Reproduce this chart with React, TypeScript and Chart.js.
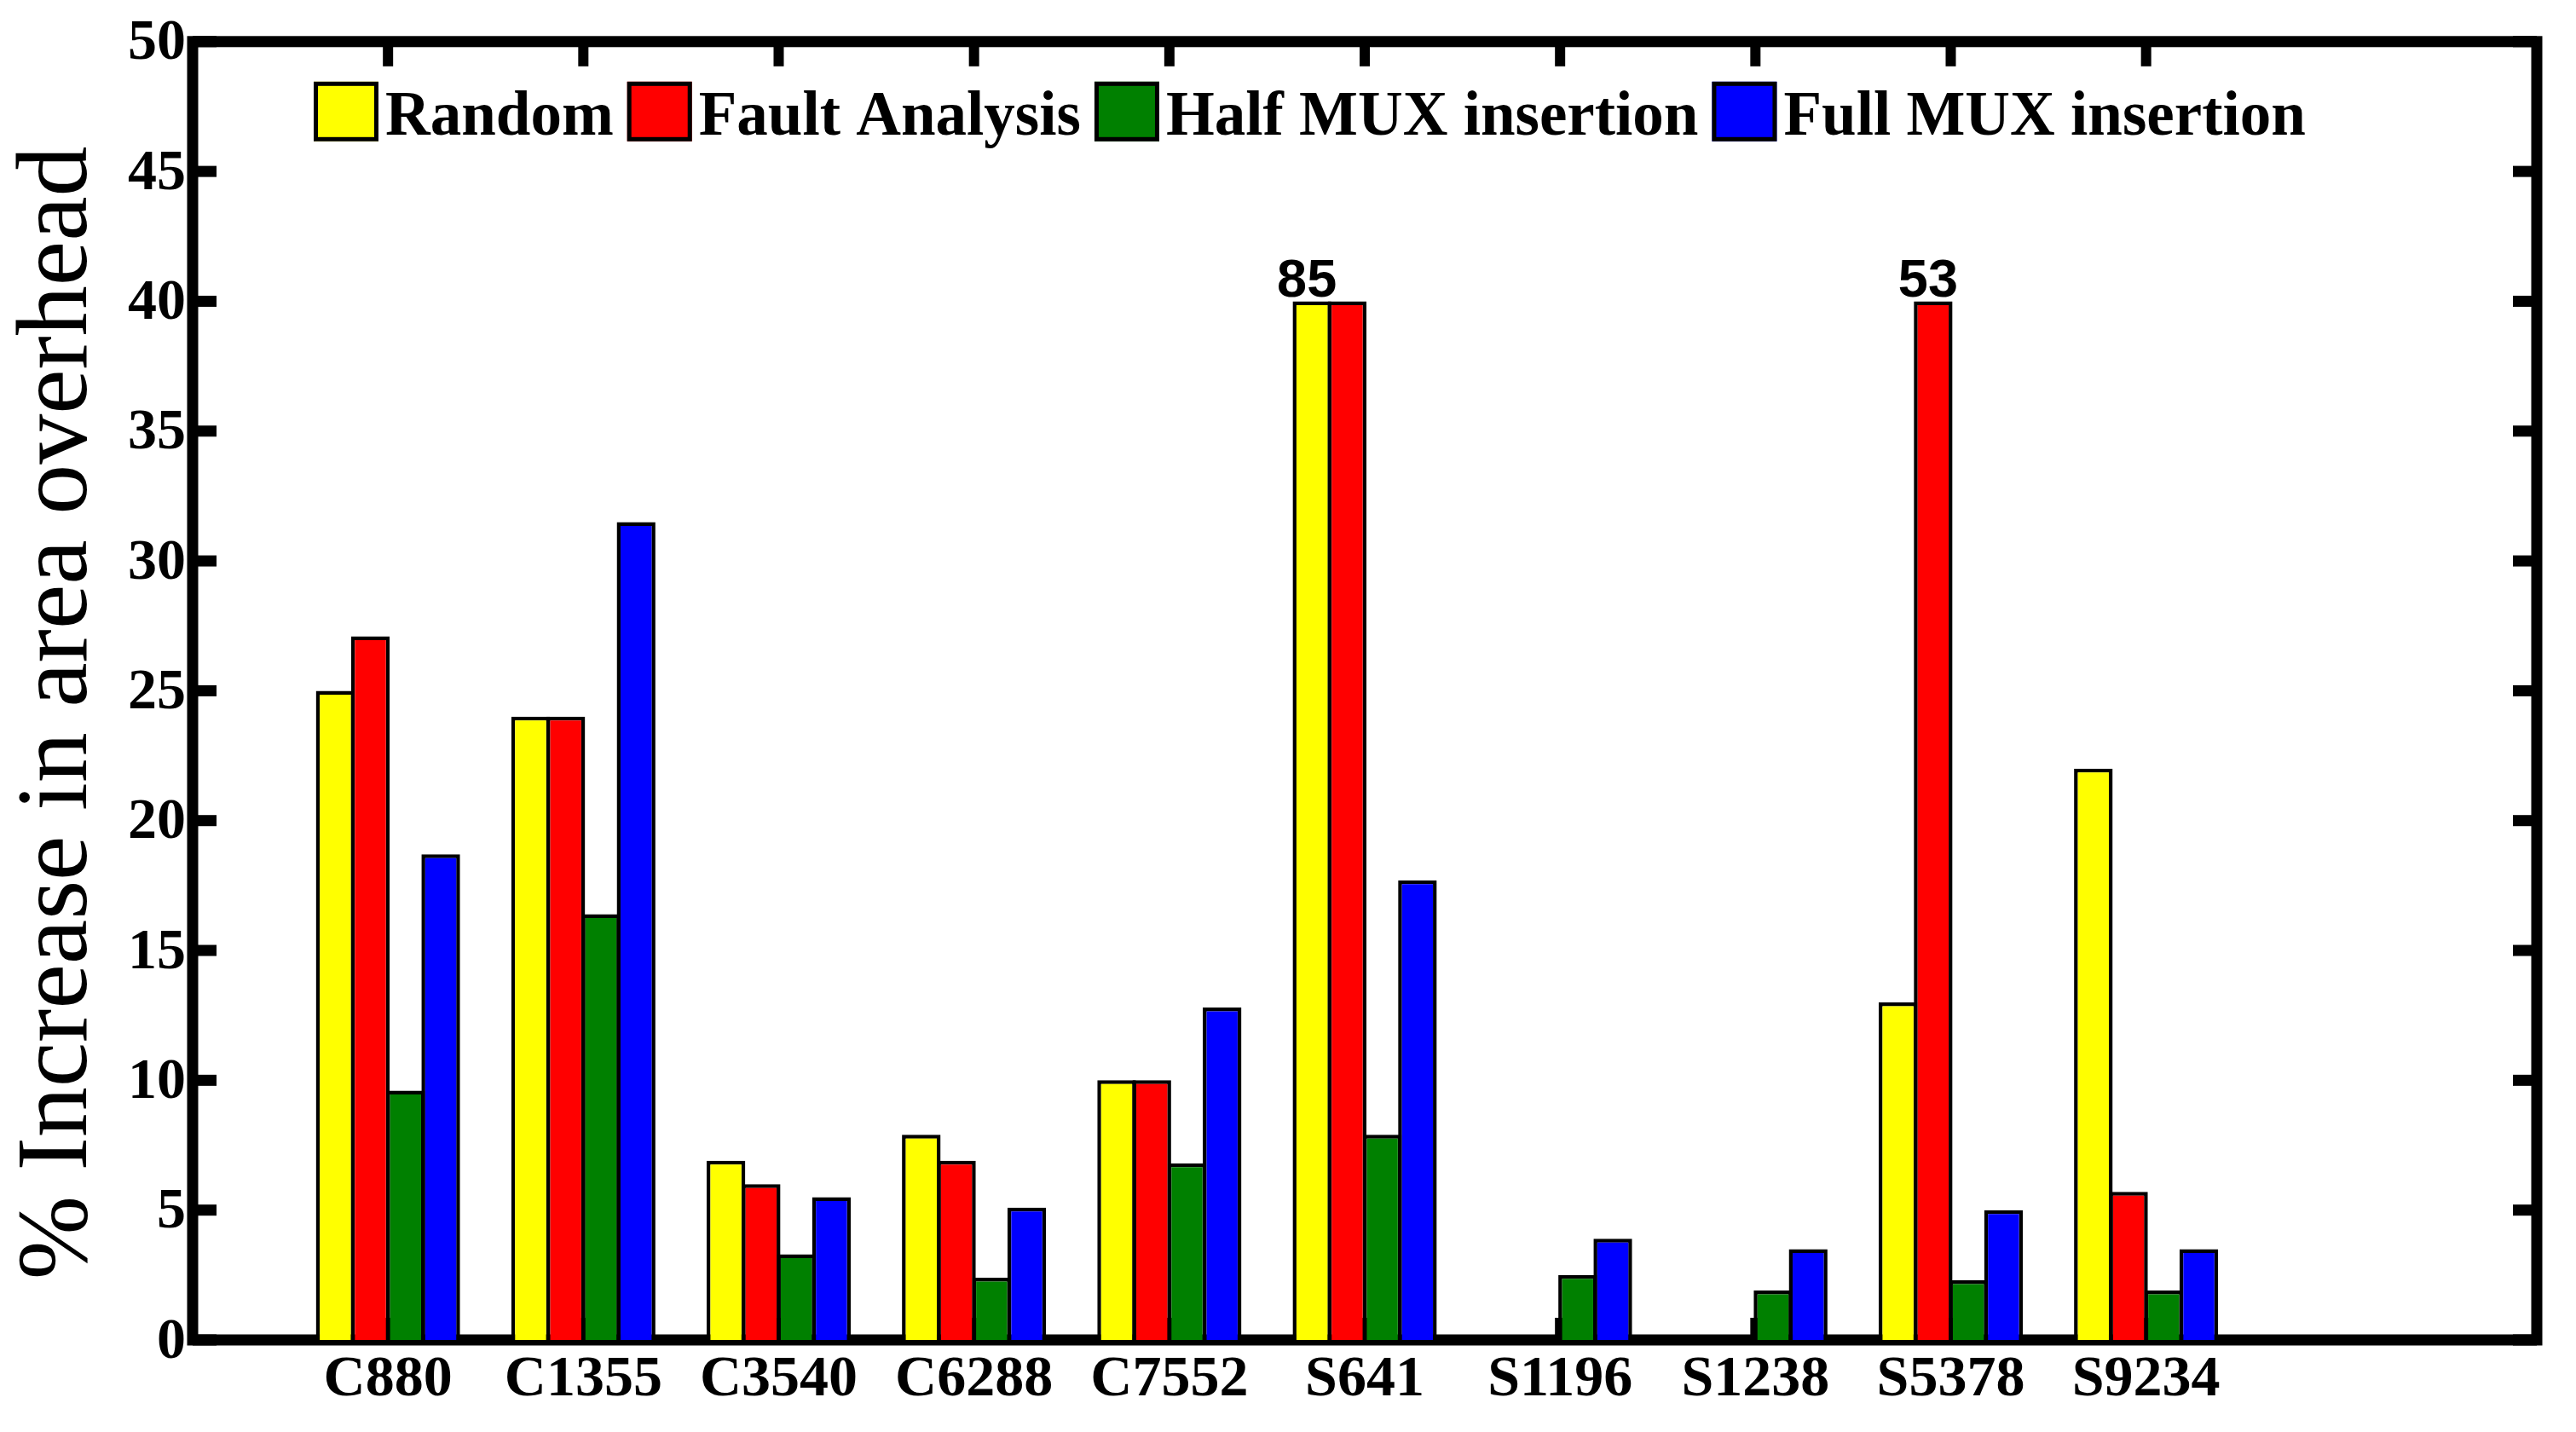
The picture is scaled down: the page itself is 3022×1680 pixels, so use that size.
import React, { useEffect, useRef } from 'react';
import { Chart, registerables } from 'chart.js';

Chart.register(...registerables);

// ---------------- data ----------------
const categories = ['C880', 'C1355', 'C3540', 'C6288', 'C7552', 'S641', 'S1196', 'S1238', 'S5378', 'S9234'];
const seriesNames = ['Random', 'Fault Analysis', 'Half MUX insertion', 'Full MUX insertion'];
const seriesColors = ['#ffff00', '#ff0000', '#008000', '#0000ff'];

const randomValues = [25, 24, 6.9, 7.9, 10, 85, null, null, 13, 22];
const faultAnalysisValues = [27.1, 24, 6, 6.9, 10, 40, null, null, 53, 5.7];
const halfMuxValues = [9.6, 16.4, 3.3, 2.4, 6.8, 7.9, 2.5, 1.9, 2.3, 1.9];
const fullMuxValues = [18.7, 31.5, 5.5, 5.1, 12.8, 17.7, 3.9, 3.5, 5.0, 3.5];

const yMin = 0;
const yMax = 50;
const yStep = 5;
const clipValue = 40; // bars taller than this are cut and labelled with their true value
const yTitle = '% Increase in area overhead';

// one empty slot before and two after the categories (x range 0..12)
const xLabels = ['', ...categories, '', ''];
const pad = (arr: (number | null)[]) => [null, ...arr.map((v) => (v === null ? null : Math.min(v, clipValue))), null, null];
const rawSeries = [randomValues, faultAnalysisValues, halfMuxValues, fullMuxValues];

const SERIF = '"Liberation Serif", "Times New Roman", serif';
const SANS = '"Liberation Sans", Arial, sans-serif';

const W = 3022;
const H = 1680;

const axesPlugin = {
  id: 'matlabAxes',
  beforeDatasetsDraw(chart: any) {
    const { ctx, chartArea: a, scales } = chart;
    const xs = scales.x;
    const ys = scales.y;
    ctx.save();
    ctx.fillStyle = '#000';
    // y ticks (inward, both sides)
    ys.ticks.forEach((t: any) => {
      const py = ys.getPixelForValue(t.value);
      ctx.fillRect(a.left, py - 6.5, 28, 13);
      ctx.fillRect(a.right - 28, py - 6.5, 28, 13);
    });
    // x ticks (inward, top and bottom) at category positions
    xLabels.forEach((lab, i) => {
      if (!lab) return;
      const px = xs.getPixelForValue(i);
      ctx.fillRect(px - 6, a.top, 12, 29);
      ctx.fillRect(px - 6, a.bottom - 26, 12, 26);
    });
    // frame
    ctx.lineWidth = 13;
    ctx.strokeStyle = '#000';
    ctx.lineJoin = 'miter';
    ctx.strokeRect(a.left, a.top, a.right - a.left, a.bottom - a.top);

    // y axis title
    ctx.save();
    ctx.translate(70, (a.top + a.bottom) / 2 + 26);
    ctx.rotate(-Math.PI / 2);
    ctx.font = `118px ${SERIF}`;
    ctx.textAlign = 'center';
    ctx.textBaseline = 'middle';
    ctx.fillText(yTitle, 0, 0);
    ctx.restore();
    ctx.restore();
  },
  afterDatasetsDraw(chart: any) {
    const { ctx, chartArea: a } = chart;
    ctx.save();
    // labels for clipped bars
    ctx.font = `bold 63px ${SANS}`;
    ctx.fillStyle = '#000';
    ctx.textAlign = 'center';
    ctx.textBaseline = 'alphabetic';
    rawSeries.forEach((arr, d) => {
      const meta = chart.getDatasetMeta(d);
      arr.forEach((v, i) => {
        if (v !== null && v > clipValue) {
          const el = meta.data[i + 1];
          ctx.fillText(String(v), el.x - 6, el.y - 5);
        }
      });
    });

    // legend inside the axes
    ctx.font = `bold 73px ${SERIF}`;
    ctx.textAlign = 'left';
    let x = a.left + 142;
    const boxTop = a.top + 47;
    const boxW = 76;
    const boxH = 70;
    chart.data.datasets.forEach((ds: any) => {
      ctx.fillStyle = ds.backgroundColor;
      ctx.fillRect(x, boxTop, boxW, boxH);
      ctx.lineWidth = 5;
      ctx.strokeStyle = '#000';
      ctx.strokeRect(x + 2.5, boxTop + 2.5, boxW - 5, boxH - 5);
      ctx.fillStyle = '#000';
      const tx = x + boxW + 8;
      ctx.fillText(ds.label, tx, a.top + 109);
      x = tx + ctx.measureText(ds.label).width + 16;
    });
    ctx.restore();
  },
};

export default function App() {
  const canvasRef = useRef<HTMLCanvasElement | null>(null);

  useEffect(() => {
    const canvas = canvasRef.current;
    if (!canvas) return;
    const chart = new Chart(canvas, {
      type: 'bar',
      data: {
        labels: xLabels,
        datasets: rawSeries.map((arr, i) => ({
          label: seriesNames[i],
          data: pad(arr),
          backgroundColor: seriesColors[i],
          borderColor: '#000',
          borderWidth: 4.5,
          borderSkipped: 'start',
          categoryPercentage: 0.72,
          barPercentage: 1.1,
        })),
      },
      options: {
        animation: false,
        responsive: false,
        devicePixelRatio: 1,
        events: [],
        layout: { padding: { top: 43, right: 46, bottom: 0, left: 0 } },
        plugins: {
          legend: { display: false },
          tooltip: { enabled: false },
          title: { display: false },
        },
        scales: {
          x: {
            type: 'category',
            offset: false,
            grid: { display: false, drawTicks: false },
            border: { display: false },
            ticks: {
              autoSkip: false,
              maxRotation: 0,
              minRotation: 0,
              padding: 7,
              color: '#000',
              font: { family: SERIF, size: 68, weight: 'bold', lineHeight: 1.2 },
            },
            afterFit: (s: any) => {
              s.height = 108;
            },
          },
          y: {
            min: yMin,
            max: yMax,
            grid: { display: false, drawTicks: false },
            border: { display: false },
            ticks: {
              stepSize: yStep,
              padding: 8,
              labelOffset: 3,
              color: '#000',
              font: { family: SERIF, size: 68, weight: 'bold', lineHeight: 1.2 },
            },
            afterFit: (s: any) => {
              s.width = 226;
            },
          },
        },
      },
      plugins: [axesPlugin],
    } as any);
    return () => chart.destroy();
  }, []);

  return (
    <div style={{ position: 'absolute', left: 0, top: 0, width: W, height: H, background: '#fff' }}>
      <canvas ref={canvasRef} width={W} height={H} style={{ width: W, height: H, display: 'block' }} />
    </div>
  );
}
